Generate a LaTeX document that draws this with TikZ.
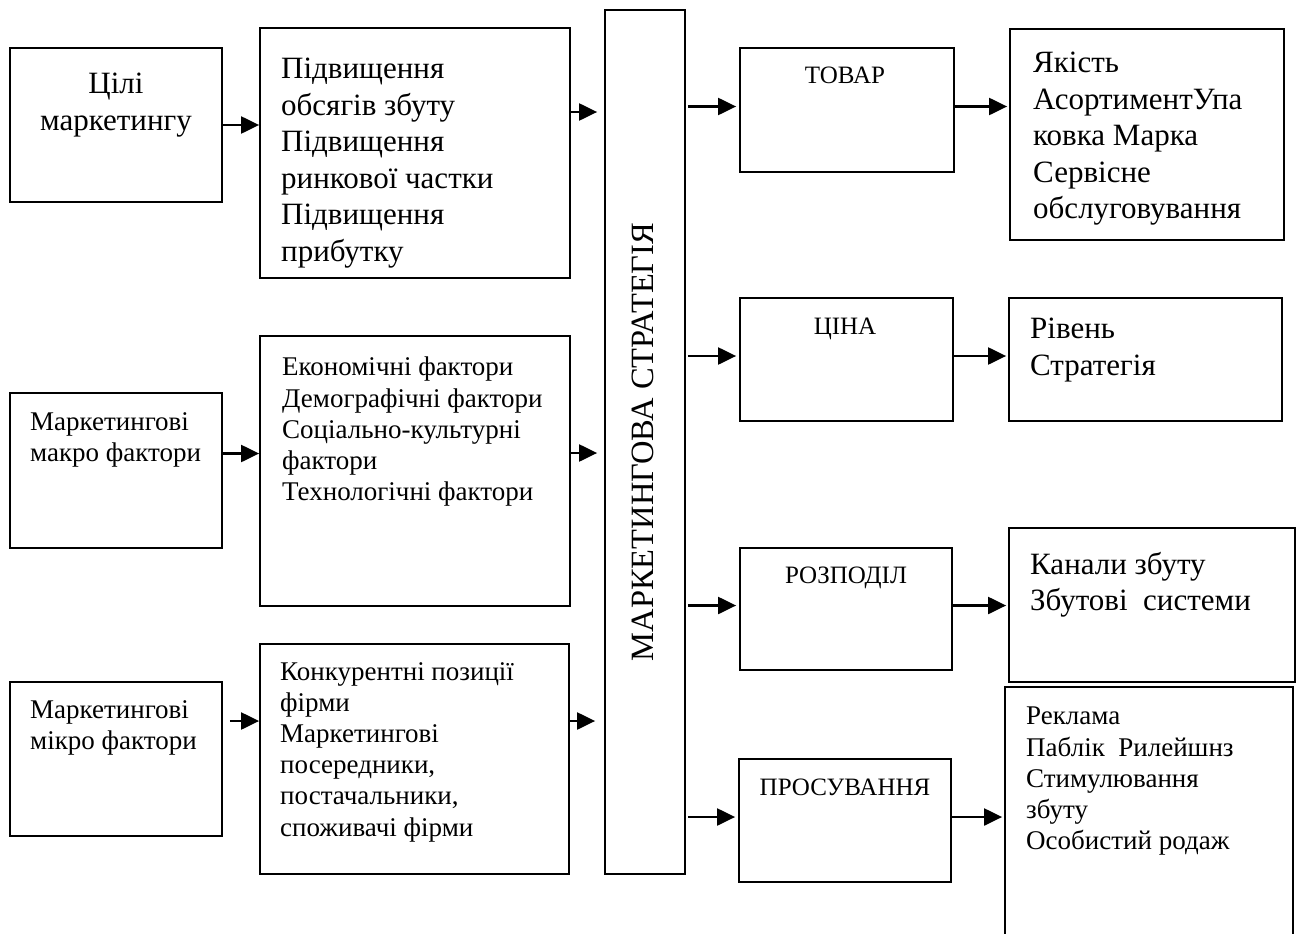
\documentclass[tikz,border=0pt]{standalone}
\usepackage{fontspec}
\setmainfont{Liberation Serif}
\usetikzlibrary{positioning, arrows.meta}

\begin{document}
\begin{tikzpicture}[
    x=1pt, y=-1pt,
    box/.style={rectangle, draw=black, line width=1.8pt, inner sep=0pt},
    arrow/.style={-{Triangle[length=18pt, width=17pt]}, line width=2.2pt},
    bigtext/.style={inner sep=0pt, align=left, font=\fontsize{31}{36.5}\selectfont},
    midtext/.style={inner sep=0pt, align=left, font=\fontsize{27}{31.2}\selectfont},
    headtext/.style={inner sep=0pt, font=\fontsize{25}{30}\selectfont}
]
    \useasboundingbox (0,0) rectangle (1298,934);
    \clip (0,0) rectangle (1298,934);

    % Left column
    \node[box, minimum width=212, minimum height=154] (goals) at (116,125) {};
    \node[box, minimum width=212, minimum height=155] (macro) at (116,470.5) {};
    \node[box, minimum width=212, minimum height=154] (micro) at (116,759) {};

    \node[bigtext, align=center, anchor=north] (goalstext) at (116,73) {Цілі\\маркетингу};
    \node[midtext, anchor=north west] (macrotext) at (30,412) {Маркетингові\\макро фактори};
    \node[midtext, anchor=north west] (microtext) at (30,700) {Маркетингові\\мікро фактори};

    % Second column
    \node[box, minimum width=310, minimum height=250] (growth) at (415,153) {};
    \node[box, minimum width=310, minimum height=270] (macrolist) at (415,471) {};
    \node[box, minimum width=309, minimum height=230] (microlist) at (414.5,759) {};

    \node[bigtext, anchor=north west] (growthtext) at (281,58)
        {Підвищення\\обсягів збуту\\Підвищення\\ринкової частки\\Підвищення\\прибутку};
    \node[midtext, anchor=north west] (macrolisttext) at (282,357)
        {Економічні фактори\\Демографічні фактори\\Соціально-культурні\\фактори\\Технологічні фактори};
    \node[midtext, anchor=north west] (microlisttext) at (280,662)
        {Конкурентні позиції\\фірми\\Маркетингові\\посередники,\\постачальники,\\споживачі фірми};

    % Strategy
    \node[box, minimum width=80, minimum height=864] (strategy) at (645,442) {};
    \node[rotate=90, inner sep=0pt, font=\fontsize{32.5}{36}\selectfont] (strategytext) at (643,442)
        {МАРКЕТИНГОВА СТРАТЕГІЯ};

    % Marketing mix
    \node[box, minimum width=214, minimum height=124] (product) at (847,110) {};
    \node[box, minimum width=213, minimum height=123] (price) at (846.5,359.5) {};
    \node[box, minimum width=212, minimum height=122] (place) at (846,609) {};
    \node[box, minimum width=212, minimum height=123] (promo) at (845,820.5) {};

    \node[headtext, anchor=north] (producttext) at (845,67) {ТОВАР};
    \node[headtext, anchor=north] (pricetext) at (845,318) {ЦІНА};
    \node[headtext, anchor=north] (placetext) at (846,567) {РОЗПОДІЛ};
    \node[headtext, anchor=north] (promotext) at (845,779) {ПРОСУВАННЯ};

    % Details
    \node[box, minimum width=274, minimum height=211] (productinfo) at (1147,134.5) {};
    \node[box, minimum width=273, minimum height=123] (priceinfo) at (1145.5,359.5) {};
    \node[box, minimum width=286, minimum height=154] (placeinfo) at (1152,605) {};
    \node[box, minimum width=288, minimum height=273] (promoinfo) at (1149,823.5) {};

    \node[bigtext, anchor=north west] (productinfotext) at (1033,52)
        {Якість\\АсортиментУпа\\ковка Марка\\Сервісне\\обслуговування};
    \node[bigtext, anchor=north west] (priceinfotext) at (1030,318) {Рівень\\Стратегія};
    \node[bigtext, anchor=north west] (placeinfotext) at (1030,552) {Канали збуту\\Збутові\ \ системи};
    \node[midtext, anchor=north west] (promoinfotext) at (1026,707)
        {Реклама\\Паблік\ \ Рилейшнз\\Стимулювання\\збуту\\Особистий родаж};

    % Arrows into strategy
    \coordinate (g2s) at ([yshift=41pt]growth.east);
    \coordinate (m2m) at ([yshift=17pt]macro.east);
    \coordinate (l2s) at ([yshift=18pt]macrolist.east);
    \coordinate (e2f) at ([yshift=38pt]micro.east);
    \coordinate (f2s) at ([yshift=38pt]microlist.east);
    \draw[arrow] (goals.east) -- (goals.east -| growth.west);
    \draw[arrow, shorten >=7pt] (g2s) -- (g2s -| strategy.west);
    \draw[arrow] (m2m) -- (m2m -| macrolist.west);
    \draw[arrow, shorten >=7pt] (l2s) -- (l2s -| strategy.west);
    \draw[arrow, shorten <=7pt] (e2f) -- (e2f -| microlist.west);
    \draw[arrow, shorten >=9pt] (f2s) -- (f2s -| strategy.west);

    % Arrows out of strategy
    \foreach \mix/\info in {product/productinfo, price/priceinfo, place/placeinfo, promo/promoinfo} {
        \coordinate (\mix in) at ([yshift=3.5pt]\mix.west);
        \coordinate (\mix out) at ([yshift=3.5pt]\mix.east);
        \draw[arrow, shorten <=2pt, shorten >=3pt] (\mix in -| strategy.east) -- (\mix in);
        \draw[arrow, shorten >=2pt] (\mix out) -- (\mix out -| \info.west);
    }

\end{tikzpicture}
\end{document}
